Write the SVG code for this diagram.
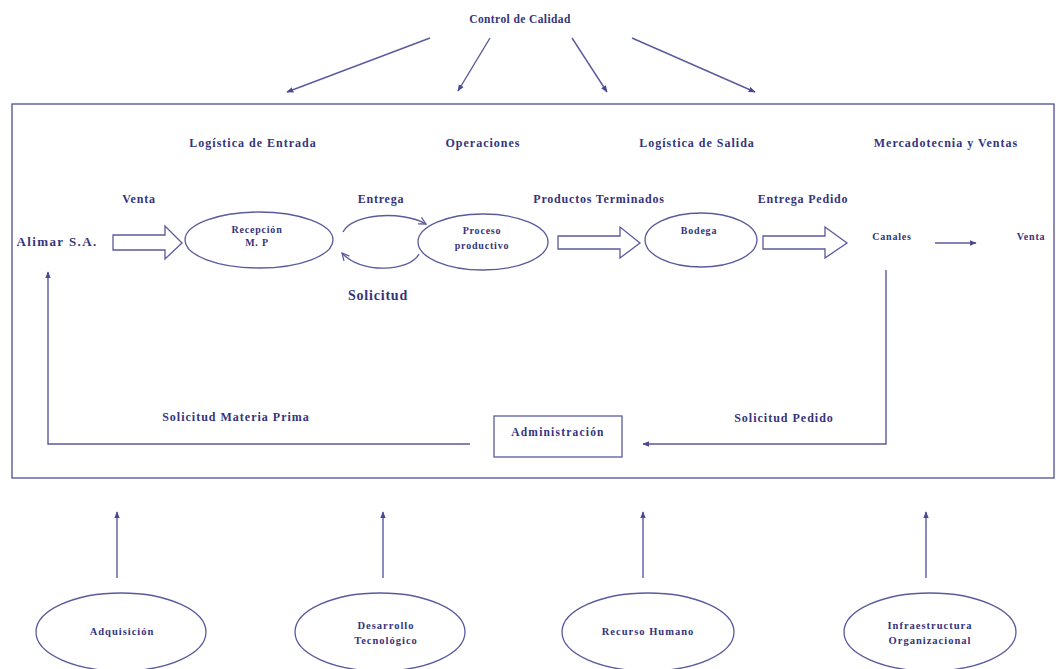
<svg xmlns="http://www.w3.org/2000/svg" width="1056" height="669" viewBox="0 0 1056 669">
  <defs>
    <style>
      .t { font-family: "Liberation Serif", "Times New Roman", serif; font-weight: bold; fill: #34347c; text-anchor: middle; }
      .h { font-size: 12px; letter-spacing: 1px; }
      .f { font-size: 12px; letter-spacing: 0.8px; }
      .s { font-size: 10px; letter-spacing: 0.8px; }
      .b { font-size: 10.5px; letter-spacing: 1px; }
      .m { font-size: 11.5px; letter-spacing: 1.2px; }
      .ln { fill: none; stroke: #5a5a9e; stroke-width: 1.4; }
      .blk { fill: #ffffff; stroke: #5a5a9e; stroke-width: 1.3; stroke-linejoin: miter; }
      .nd { fill: #ffffff; stroke: #5a5a9e; stroke-width: 1.3; }
    </style>
    <marker id="ah" viewBox="0 0 10 10" refX="9" refY="5" markerWidth="7" markerHeight="7" orient="auto" markerUnits="userSpaceOnUse">
      <path d="M0,1 L10,5 L0,9 Z" fill="#4a4a92"/>
    </marker>
    <marker id="half" viewBox="0 0 10 10" refX="9" refY="5" markerWidth="9" markerHeight="9" orient="auto" markerUnits="userSpaceOnUse">
      <path d="M1,1 L9,5 L1,9" fill="none" stroke="#5a5a9e" stroke-width="1.4"/>
    </marker>
  </defs>

  <rect width="1056" height="669" fill="#ffffff"/>

  <!-- outer value-chain frame -->
  <rect id="frame" x="12" y="104" width="1042" height="374" class="ln"/>

  <!-- quality control on top -->
  <g id="control-calidad">
    <text class="t" style="font-size:11.5px;letter-spacing:0.4px" x="520" y="23">Control de Calidad</text>
  </g>

  <!-- stage headings -->
  <g id="headings">
    <text class="t h" x="253" y="147">Logística de Entrada</text>
    <text class="t h" x="483" y="147">Operaciones</text>
    <text class="t h" x="697" y="147">Logística de Salida</text>
    <text class="t h" x="946" y="147">Mercadotecnia y Ventas</text>
  </g>

  <g id="alimar">
    <text class="t" style="font-size:13px;letter-spacing:1.4px" x="57" y="246">Alimar S.A.</text>
  </g>

  <g id="recepcion">
    <ellipse class="nd" cx="259" cy="240" rx="74" ry="28"/>
    <text class="t s" x="257" y="233">Recepción</text>
    <text class="t s" x="257" y="246">M. P</text>
  </g>

  <g id="proceso">
    <ellipse class="nd" cx="483" cy="242" rx="65" ry="28"/>
    <text class="t s" x="482" y="234">Proceso</text>
    <text class="t s" x="482" y="249">productivo</text>
  </g>

  <g id="bodega">
    <ellipse class="nd" cx="701" cy="240" rx="56" ry="27"/>
    <text class="t s" x="699" y="234">Bodega</text>
  </g>

  <g id="canales">
    <text class="t s" x="892" y="240">Canales</text>
  </g>

  <g id="venta-final">
    <text class="t s" x="1031" y="240">Venta</text>
  </g>

  <g id="administracion">
    <rect class="nd" x="494" y="416" width="128" height="41"/>
    <text class="t m" x="558" y="436">Administración</text>
  </g>

  <!-- support activities -->
  <g id="adquisicion">
    <ellipse class="nd" cx="121" cy="632" rx="85" ry="39"/>
    <text class="t b" x="122" y="635">Adquisición</text>
  </g>
  <g id="desarrollo">
    <ellipse class="nd" cx="380" cy="632" rx="85" ry="39"/>
    <text class="t b" x="386" y="629">Desarrollo</text>
    <text class="t b" x="386" y="644">Tecnológico</text>
  </g>
  <g id="recurso-humano">
    <ellipse class="nd" cx="648" cy="632" rx="86" ry="39"/>
    <text class="t b" x="648" y="635">Recurso Humano</text>
  </g>
  <g id="infraestructura">
    <ellipse class="nd" cx="930" cy="632" rx="86" ry="39"/>
    <text class="t b" x="930" y="629">Infraestructura</text>
    <text class="t b" x="930" y="644">Organizacional</text>
  </g>

  <!-- connectors -->
  <g id="connectors">
    <!-- quality control arrows -->
    <line class="ln" x1="430" y1="38" x2="287" y2="92" marker-end="url(#ah)"/>
    <line class="ln" x1="490" y1="38" x2="458" y2="91" marker-end="url(#ah)"/>
    <line class="ln" x1="572" y1="38" x2="607" y2="92" marker-end="url(#ah)"/>
    <line class="ln" x1="632" y1="38" x2="755" y2="92" marker-end="url(#ah)"/>

    <!-- block arrows of the main flow -->
    <path class="blk" d="M113,235 L165,235 L165,226 L182,243 L165,259 L165,250 L113,250 Z"/>
    <path class="blk" d="M558,236 L620,236 L620,227 L640,243 L620,258 L620,249 L558,249 Z"/>
    <path class="blk" d="M763,236 L825,236 L825,227 L847,243 L825,258 L825,249 L763,249 Z"/>

    <!-- delivery / request loop -->
    <path class="ln" d="M343,232 C352,214 400,210 426,224" marker-end="url(#half)"/>
    <path class="ln" d="M419,254 C410,272 360,274 342,253" marker-end="url(#half)"/>

    <!-- channels to sale -->
    <line class="ln" x1="935" y1="243" x2="976" y2="243" marker-end="url(#ah)"/>

    <!-- order request loop back to administration -->
    <polyline class="ln" points="886,270 886,444 643,444" marker-end="url(#ah)"/>

    <!-- raw material request back to Alimar -->
    <polyline class="ln" points="470,444 48,444 48,272" marker-end="url(#ah)"/>

    <!-- support activity arrows -->
    <line class="ln" x1="117" y1="578" x2="117" y2="512" marker-end="url(#ah)"/>
    <line class="ln" x1="383" y1="578" x2="383" y2="512" marker-end="url(#ah)"/>
    <line class="ln" x1="643" y1="578" x2="643" y2="512" marker-end="url(#ah)"/>
    <line class="ln" x1="926" y1="578" x2="926" y2="512" marker-end="url(#ah)"/>
  </g>

  <!-- flow labels -->
  <g id="labels">
    <text class="t f" x="139" y="203">Venta</text>
    <text class="t f" x="381" y="203">Entrega</text>
    <text class="t f" x="599" y="203">Productos Terminados</text>
    <text class="t f" x="803" y="203">Entrega Pedido</text>
    <text class="t" style="font-size:14px;letter-spacing:0.8px" x="378" y="300">Solicitud</text>
    <text class="t h" x="236" y="421">Solicitud Materia Prima</text>
    <text class="t h" x="784" y="422">Solicitud Pedido</text>
  </g>
</svg>
